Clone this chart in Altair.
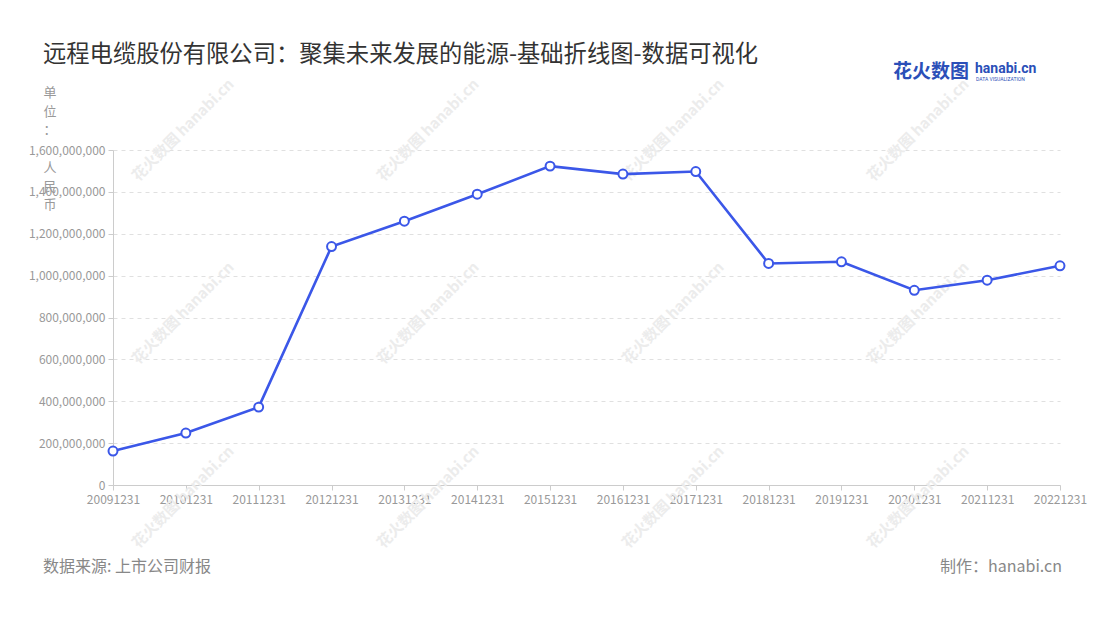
import altair as alt
import pandas as pd

dates = ["20091231", "20101231", "20111231", "20121231", "20131231", "20141231",
         "20151231", "20161231", "20171231", "20181231", "20191231", "20201231",
         "20211231", "20221231"]
values = [162e6, 248e6, 372e6, 1139e6, 1260e6, 1389e6, 1523e6, 1485e6, 1497e6,
          1058e6, 1066e6, 930e6, 978e6, 1047e6]
y_ticks = [0, 200e6, 400e6, 600e6, 800e6, 1000e6, 1200e6, 1400e6, 1600e6]

title_text = "远程电缆股份有限公司：聚集未来发展的能源-基础折线图-数据可视化"
source_text = "数据来源: 上市公司财报"
maker_text = "制作：hanabi.cn"
watermark_text = "花火数图 hanabi.cn"
y_title_top = "单\n位\n："
y_title_bottom = "人\n民\n币"

FONT = "Noto Sans CJK SC"
BLUE = "#3b57e8"

df = pd.DataFrame({"date": dates, "value": values})

W, H = 947, 335
OX, OY = 113, 150  # plot origin on the page

base = alt.Chart(df).encode(
    x=alt.X("date:N", sort=dates,
            scale=alt.Scale(type="point", padding=0),
            axis=alt.Axis(title=None, labelAngle=0, labelFont=FONT, labelFontSize=12,
                          labelColor="#999999", domainColor="#cccccc", tickColor="#cccccc",
                          tickSize=5, labelPadding=4, grid=False)),
    y=alt.Y("value:Q",
            scale=alt.Scale(domain=[0, 1600e6], nice=False),
            axis=alt.Axis(values=y_ticks, format=",.0f", title=None,
                          labelFont=FONT, labelFontSize=12, labelColor="#999999",
                          domain=True, domainColor="#cccccc", ticks=True, tickColor="#cccccc",
                          tickSize=5, labelPadding=3,
                          grid=True, gridColor="#e0e0e0", gridDash=[4, 4])),
)

line = base.mark_line(color=BLUE, strokeWidth=2.6)
points = base.mark_point(filled=True, fill="white", stroke=BLUE, strokeWidth=2,
                         size=80, opacity=1)


def label(text, x, y, size, color, align="left", weight="normal", font=FONT, angle=0,
          baseline="middle"):
    return alt.Chart(pd.DataFrame({"t": [text]})).mark_text(
        align=align, baseline=baseline, fontSize=size, color=color,
        font=font, fontWeight=weight, angle=angle, lineBreak="\n", lineHeight=18.7
    ).encode(text="t:N", x=alt.value(x - OX), y=alt.value(y - OY))


watermarks = [
    label(watermark_text, cx, cy, 15, "#ececec", align="center", weight="bold", angle=315)
    for cx in (183, 428, 673, 918) for cy in (130, 313, 497)
]

ytitle1 = label(y_title_top, 50, 87, 13, "#999999", align="center", baseline="top")
ytitle2 = label(y_title_bottom, 50, 162, 13, "#999999", align="center", baseline="top")

title = label(title_text, 43, 55, 23.3, "#333333")
source = label(source_text, 43, 567, 16, "#888888")
maker = label(maker_text, 1062, 567, 16, "#888888", align="right")
logo1 = label("花火数图", 893, 72, 19, "#2b4fb8", weight="bold")
logo2 = label("hanabi.cn", 975, 69, 14, "#2b4fb8", weight="bold", font="Roboto")
logo3 = label("DATA VISUALIZATION", 976, 79, 5, "#2b4fb8", font="Roboto")

chart = alt.layer(*watermarks, line, points, ytitle1, ytitle2, title, source, maker,
                  logo1, logo2, logo3).properties(
    width=W, height=H,
    autosize=alt.AutoSizeParams(type="none"),
    padding={"left": OX - 8, "top": OY - 8, "right": 32, "bottom": 127},
    background="white",
).configure_view(stroke=None)

chart.save("out.html", embed_options={"renderer": "svg", "actions": False})
